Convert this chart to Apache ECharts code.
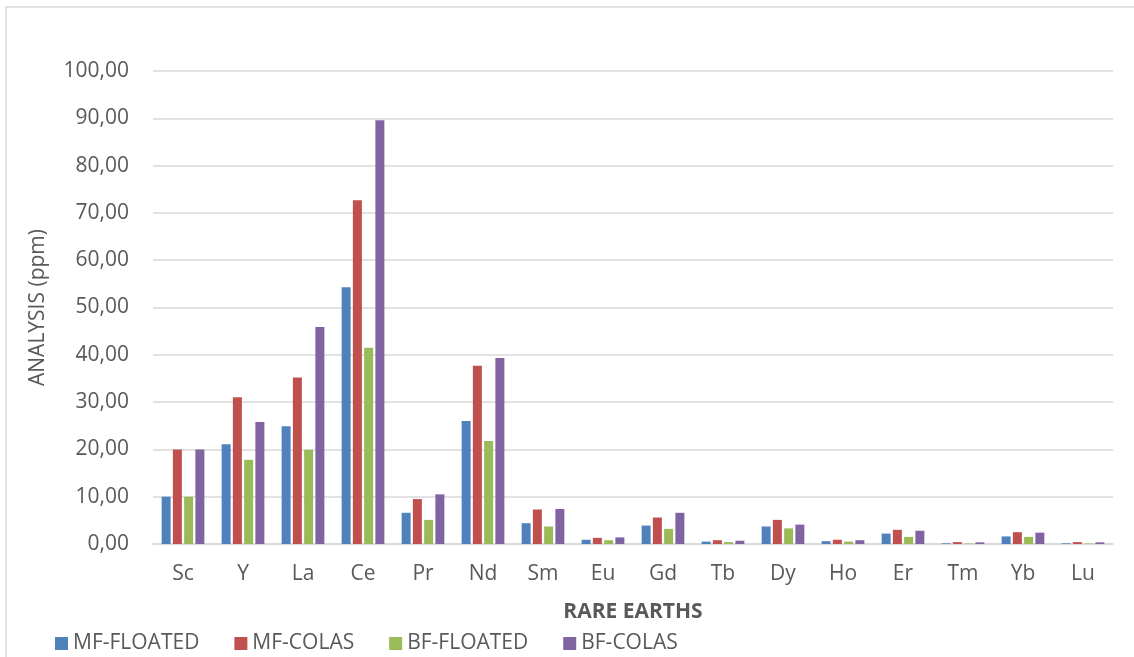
<!DOCTYPE html>
<html>
<head>
<meta charset="utf-8">
<script src="https://cdn.jsdelivr.net/npm/echarts@6/dist/echarts.min.js"></script>
<style>
  html, body { margin: 0; padding: 0; background: #fff; }
  #chart { width: 1134px; height: 657px; }
</style>
</head>
<body>
<div id="chart"></div>
<script>
const elements = ['Sc', 'Y', 'La', 'Ce', 'Pr', 'Nd', 'Sm', 'Eu', 'Gd', 'Tb', 'Dy', 'Ho', 'Er', 'Tm', 'Yb', 'Lu'];

const mfFloated = [10.0, 21.1, 24.9, 54.3, 6.6, 26.0, 4.4, 0.9, 3.9, 0.5, 3.7, 0.6, 2.2, 0.15, 1.6, 0.15];
const mfColas   = [20.0, 31.0, 35.2, 72.7, 9.5, 37.7, 7.3, 1.3, 5.6, 0.8, 5.1, 0.9, 3.0, 0.4, 2.5, 0.4];
const bfFloated = [10.0, 17.8, 19.9, 41.5, 5.1, 21.8, 3.7, 0.8, 3.2, 0.4, 3.3, 0.5, 1.5, 0.1, 1.5, 0.1];
const bfColas   = [20.0, 25.8, 45.9, 89.6, 10.5, 39.3, 7.4, 1.4, 6.6, 0.7, 4.1, 0.8, 2.8, 0.35, 2.4, 0.35];

const seriesNames = ['MF-FLOATED', 'MF-COLAS', 'BF-FLOATED', 'BF-COLAS'];
const seriesData = [mfFloated, mfColas, bfFloated, bfColas];
const colors = ['#4F81BD', '#C0504D', '#9BBB59', '#8064A2'];

const font = '"Open Sans", sans-serif';

const chart = echarts.init(document.getElementById('chart'));

const option = {
  animation: false,
  color: colors,
  textStyle: { fontFamily: font },
  graphic: [{
    type: 'rect',
    shape: { x: 6, y: 7, width: 1140, height: 660 },
    style: { fill: 'none', stroke: '#D9D9D9', lineWidth: 1.5 },
    silent: true
  }],
  grid: {
    left: 153,
    right: 21,
    top: 71,
    bottom: 113
  },
  legend: {
    left: 55,
    top: 633,
    padding: 0,
    itemWidth: 13,
    itemHeight: 13,
    itemGap: 35,
    icon: 'rect',
    textStyle: { fontSize: 21, color: '#595959', fontFamily: font },
    data: seriesNames
  },
  xAxis: {
    type: 'category',
    data: elements,
    name: 'RARE EARTHS',
    nameLocation: 'middle',
    nameGap: 58,
    nameTextStyle: { fontSize: 21, fontWeight: 'bold', color: '#595959' },
    axisLine: { lineStyle: { color: '#D9D9D9', width: 1.5 } },
    axisTick: { show: false },
    axisLabel: { fontSize: 21, color: '#595959', margin: 20 }
  },
  yAxis: {
    type: 'value',
    min: 0,
    max: 100,
    interval: 10,
    name: 'ANALYSIS (ppm)',
    nameLocation: 'middle',
    nameGap: 104,
    nameTextStyle: { fontSize: 21, color: '#595959' },
    axisLine: { show: false },
    axisTick: { show: false },
    axisLabel: {
      fontSize: 21,
      color: '#595959',
      margin: 24,
      formatter: v => v.toFixed(2).replace('.', ',')
    },
    splitLine: { lineStyle: { color: '#D9D9D9', width: 1.5 } }
  },
  series: seriesNames.map((name, i) => ({
    type: 'bar',
    name: name,
    data: seriesData[i],
    barWidth: 9,
    barGap: '25%',
    itemStyle: { color: colors[i] }
  }))
};

chart.setOption(option);
</script>
</body>
</html>
